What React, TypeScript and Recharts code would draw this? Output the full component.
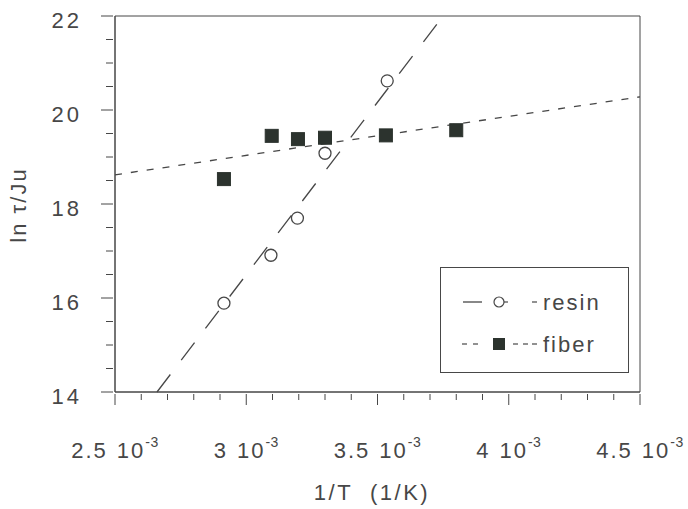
import React from "react"
import {
  ScatterChart,
  Scatter,
  XAxis,
  YAxis,
  ReferenceLine,
  ReferenceArea,
  Label,
} from "recharts"

// x values are in units of 10^-3 (1/K)
const xTicks = [2.5, 2.6, 2.7, 2.8, 2.9, 3.0, 3.1, 3.2, 3.3, 3.4, 3.5, 3.6, 3.7, 3.8, 3.9, 4.0, 4.1, 4.2, 4.3, 4.4, 4.5]
const yTicks = [14, 14.5, 15, 15.5, 16, 16.5, 17, 17.5, 18, 18.5, 19, 19.5, 20, 20.5, 21, 21.5, 22]

const resinX = [2.915, 3.094, 3.195, 3.3, 3.537]
const resinY = [15.89, 16.91, 17.7, 19.08, 20.62]
const fiberX = [2.915, 3.097, 3.197, 3.3, 3.532, 3.8]
const fiberY = [18.53, 19.45, 19.38, 19.41, 19.46, 19.57]

// fitted lines
const resinFit = [{ x: 2.66, y: 14 }, { x: 3.75, y: 22 }]
const fiberFit = [{ x: 2.5, y: 18.62 }, { x: 4.5, y: 20.28 }]

const resinData = resinX.map((x, i) => ({ x, y: resinY[i] }))
const fiberData = fiberX.map((x, i) => ({ x, y: fiberY[i] }))

const INK = "#474747"
const FONT = "'Liberation Sans', Arial, sans-serif"

const isMajor = (v: number, step: number) => Math.abs(v / step - Math.round(v / step)) < 1e-6

function XTick(props: any) {
  const { x, y, payload } = props
  const major = isMajor(payload.value, 0.5)
  return (
    <g>
      <line x1={x} y1={y} x2={x} y2={y + (major ? 11 : 6)} stroke={INK} strokeWidth={1} />
      {major && (
        <text x={x} y={y + 64} textAnchor="middle" fill={INK} fontSize={22} letterSpacing={2} fontFamily={FONT}>
          <tspan>{`${payload.value}`}</tspan>
          <tspan dx={9}>10</tspan>
          <tspan dy={-11} fontSize={14} letterSpacing={0.5}>-3</tspan>
        </text>
      )}
    </g>
  )
}

function YTick(props: any) {
  const { x, y, payload } = props
  const major = isMajor(payload.value, 2)
  return (
    <g>
      <line x1={x - (major ? 12 : 7)} y1={y} x2={x} y2={y} stroke={INK} strokeWidth={1} />
      {major && (
        <text x={x - 31} y={y + 12} textAnchor="end" fill={INK} fontSize={22} letterSpacing={3} fontFamily={FONT}>
          {payload.value}
        </text>
      )}
    </g>
  )
}

const CircleMark = (props: any) => (
  <circle cx={props.cx} cy={props.cy} r={6} fill="none" stroke={INK} strokeWidth={1.3} />
)

const SquareMark = (props: any) => (
  <rect x={props.cx - 6.5} y={props.cy - 6.5} width={13} height={13} fill="#2c332e" stroke="#2c332e" />
)

function LegendBox() {
  return (
    <div style={{ position: "absolute", left: 440, top: 267, width: 189, height: 106, border: `1px solid ${INK}`, boxSizing: "border-box", background: "#fff" }}>
      <svg width={187} height={104} style={{ display: "block" }}>
        <line x1={22} y1={34} x2={41} y2={34} stroke={INK} strokeWidth={1.3} />
        <circle cx={58} cy={34} r={5} fill="none" stroke={INK} strokeWidth={1.2} />
        <line x1={63} y1={34} x2={67} y2={34} stroke={INK} strokeWidth={1.2} />
        <line x1={91} y1={34} x2={96} y2={34} stroke={INK} strokeWidth={1.2} />
        <text x={102} y={42} fill={INK} fontSize={22} letterSpacing={2} fontFamily={FONT}>resin</text>
        <line x1={21} y1={76} x2={26} y2={76} stroke={INK} strokeWidth={1.2} />
        <line x1={32} y1={76} x2={37} y2={76} stroke={INK} strokeWidth={1.2} />
        <rect x={52} y={70} width={12} height={12} fill="#2c332e" />
        <line x1={72} y1={76} x2={77} y2={76} stroke={INK} strokeWidth={1.2} />
        <line x1={82} y1={76} x2={87} y2={76} stroke={INK} strokeWidth={1.2} />
        <line x1={91} y1={76} x2={96} y2={76} stroke={INK} strokeWidth={1.2} />
        <text x={102} y={84} fill={INK} fontSize={22} letterSpacing={2} fontFamily={FONT}>fiber</text>
      </svg>
    </div>
  )
}

export default function App() {
  return (
    <div style={{ position: "absolute", left: 0, top: 0, width: 688, height: 509, background: "#fff" }}>
      <ScatterChart width={688} height={509} margin={{ top: 16, right: 48, left: 15, bottom: 57 }}>
        <XAxis
          type="number"
          dataKey="x"
          domain={[2.5, 4.5]}
          ticks={xTicks}
          interval={0}
          tickSize={0}
          tickLine={false}
          height={60}
          axisLine={{ stroke: INK }}
          tick={<XTick />}
        >
          <Label
            content={(p: any) => (
              <text x={372} y={p.viewBox.y + 108} textAnchor="middle" fill={INK} fontSize={22} letterSpacing={2.5} fontFamily={FONT}>
                {"1/T \u00a0(1/K)"}
              </text>
            )}
          />
        </XAxis>
        <YAxis
          type="number"
          dataKey="y"
          domain={[14, 22]}
          ticks={yTicks}
          interval={0}
          tickSize={0}
          tickLine={false}
          width={100}
          axisLine={{ stroke: INK }}
          tick={<YTick />}
        >
          <Label
            content={() => {
              const cx = 18
              const cy = 205
              return (
                <text x={cx} y={cy} transform={`rotate(-90 ${cx} ${cy})`} textAnchor="middle" dominantBaseline="central" fill={INK} fontSize={22} letterSpacing={2} fontFamily={FONT}>
                  {"ln \u03c4/Ju"}
                </text>
              )
            }}
          />
        </YAxis>
        <ReferenceArea x1={2.5} x2={4.5} y1={14} y2={22} fill="none" stroke={INK} strokeWidth={1} />
        <ReferenceLine segment={fiberFit} stroke={INK} strokeWidth={1.3} strokeDasharray="7 9" />
        <ReferenceLine segment={resinFit} stroke={INK} strokeWidth={1.3} strokeDasharray="22 18" />
        <Scatter name="resin" data={resinData} shape={<CircleMark />} isAnimationActive={false} />
        <Scatter name="fiber" data={fiberData} shape={<SquareMark />} isAnimationActive={false} />
      </ScatterChart>
      <LegendBox />
    </div>
  )
}
